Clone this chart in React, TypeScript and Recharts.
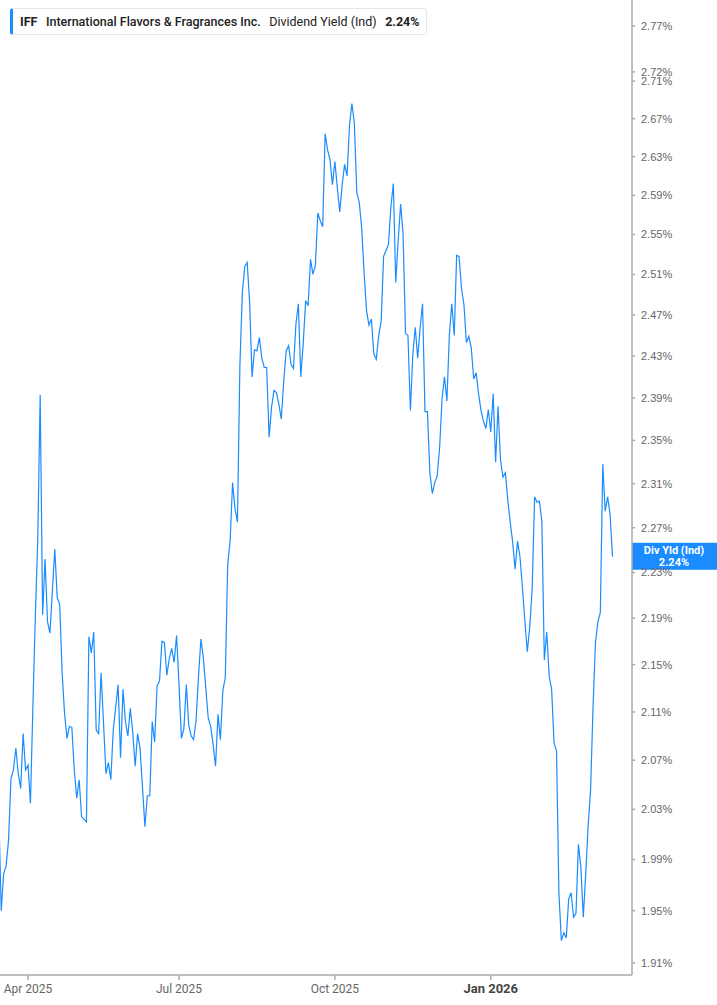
import { LineChart, Line, XAxis, YAxis, ReferenceLine } from 'recharts'

// trading-day index 0 = 17 Mar 2025
const tickDays = [11, 73, 137, 201]
const tickLabels = ['Apr 2025', 'Jul 2025', 'Oct 2025', 'Jan 2026']

const yieldTicks = [
  1.91, 1.95, 1.99, 2.03, 2.07, 2.11, 2.15, 2.19, 2.23, 2.27, 2.31, 2.35,
  2.39, 2.43, 2.47, 2.51, 2.55, 2.59, 2.63, 2.67, 2.71, 2.72, 2.77,
]

// dividend yield (%), each run starts at the given trading day
const marchStart = -1
const march2025 = [
  2.029, 1.95, 1.979, 1.985, 2.005, 2.055, 2.062, 2.08, 2.059, 2.047, 2.092,
  2.062, 2.066, 2.035, 2.114, 2.191, 2.259, 2.393, 2.193, 2.242, 2.187, 2.177,
]
const aprilStart = 22
const april2025 = [2.251, 2.208, 2.202, 2.143, 2.109, 2.088, 2.098, 2.097, 2.062, 2.039, 2.054, 2.024]
const mayStart = 35
const may2025 = [2.02, 2.174, 2.16, 2.178, 2.095, 2.092, 2.143, 2.101, 2.059, 2.068, 2.054, 2.095]
const summerStart = 48
const summer2025 = [
  2.133, 2.072, 2.129, 2.102, 2.09, 2.113, 2.093, 2.065, 2.092, 2.08, 2.048,
  2.016, 2.041, 2.041, 2.102, 2.085, 2.132, 2.136, 2.17, 2.169, 2.141, 2.155,
  2.164, 2.152, 2.175, 2.133, 2.088, 2.096, 2.133, 2.099, 2.09, 2.087, 2.103,
  2.14, 2.172, 2.156, 2.13, 2.105, 2.098, 2.083, 2.065, 2.108, 2.087, 2.128,
  2.139,
]
const autumnStart = 93
const autumn2025 = [
  2.237, 2.259, 2.311, 2.287, 2.275, 2.421, 2.492, 2.518, 2.522, 2.482, 2.41,
  2.436, 2.435, 2.448, 2.428, 2.419, 2.419, 2.353, 2.381, 2.397, 2.395, 2.384,
  2.37, 2.406, 2.435, 2.44, 2.422, 2.418, 2.461, 2.481, 2.41, 2.442, 2.484,
  2.479, 2.525, 2.51, 2.519, 2.572, 2.564, 2.558, 2.654, 2.637, 2.627, 2.601,
  2.625, 2.598, 2.573, 2.601, 2.622, 2.61, 2.663, 2.686, 2.665, 2.593, 2.583,
  2.557, 2.512, 2.474, 2.46, 2.466, 2.432, 2.427, 2.45, 2.464, 2.528, 2.534,
  2.54, 2.578,
]
const winterStart = 161
const winter2026 = [
  2.602, 2.502, 2.544, 2.581, 2.551, 2.452, 2.45, 2.378, 2.431, 2.458, 2.428,
  2.457, 2.481, 2.377, 2.377, 2.32, 2.301, 2.311, 2.317, 2.343, 2.389, 2.41,
  2.387, 2.45, 2.481, 2.45, 2.529, 2.528, 2.496, 2.48, 2.443, 2.449, 2.438,
  2.408, 2.414, 2.394, 2.378, 2.368, 2.361, 2.379, 2.358, 2.394, 2.33, 2.382,
  2.332, 2.316, 2.32, 2.295, 2.275, 2.257, 2.233, 2.258, 2.244, 2.217, 2.188,
  2.161, 2.182, 2.215, 2.298, 2.293, 2.294, 2.275, 2.154, 2.178, 2.14, 2.129,
  2.084, 2.078, 1.963, 1.927, 1.933, 1.929, 1.959, 1.964, 1.945, 1.948, 2.002,
  1.984, 1.945, 1.979, 2.017, 2.046, 2.114, 2.169, 2.187, 2.195, 2.328, 2.285,
  2.298, 2.282, 2.244,
]

const runs: [number, number[]][] = [
  [marchStart, march2025],
  [aprilStart, april2025],
  [mayStart, may2025],
  [summerStart, summer2025],
  [autumnStart, autumn2025],
  [winterStart, winter2026],
]
const data = runs.flatMap(([start, vals]) => vals.map((v, k) => ({ day: start + k, value: v })))
const lastValue = winter2026[winter2026.length - 1]

const BLUE = '#1a8cff'

function DateTick({ x, y, payload }: any) {
  const label = tickLabels[tickDays.indexOf(payload.value)]
  const isYear = label.startsWith('Jan')
  return (
    <text
      x={x}
      y={y + 11}
      textAnchor="middle"
      fontSize={isYear ? 13 : 12}
      fontWeight={isYear ? 700 : 400}
      fill={isYear ? '#444' : '#666'}
      fontFamily="Roboto, sans-serif"
    >
      {label}
    </text>
  )
}

function LastBadge({ viewBox }: any) {
  const left = viewBox.x + viewBox.width
  const y = viewBox.y
  return (
    <g>
      <rect x={left} y={y - 14} width={85} height={27} fill={BLUE} />
      <text x={left + 42} y={y - 3} textAnchor="middle" fill="#fff" fontSize={11} fontWeight={700} fontFamily="Roboto, sans-serif">
        Div Yld (Ind)
      </text>
      <text x={left + 42} y={y + 9} textAnchor="middle" fill="#fff" fontSize={11} fontWeight={700} fontFamily="Roboto, sans-serif">
        {lastValue.toFixed(2)}%
      </text>
    </g>
  )
}

export default function App() {
  return (
    <div style={{ position: 'absolute', left: 0, top: 0, width: 717, height: 1005, background: '#fff' }}>
      <LineChart width={717} height={1005} data={data} margin={{ top: 0, right: 0, bottom: 0, left: 0 }}>
        <XAxis
          dataKey="day"
          type="number"
          domain={[-0.5, 259]}
          allowDataOverflow
          ticks={tickDays}
          height={30}
          stroke="#aaa"
          strokeWidth={1.5}
          tickSize={5}
          tick={<DateTick />}
        />
        <YAxis
          orientation="right"
          width={85}
          scale="log"
          domain={[1.9009, 2.7987]}
          allowDataOverflow
          ticks={yieldTicks}
          interval={0}
          stroke="#aaa"
          strokeWidth={1.5}
          tickSize={3}
          tickMargin={6}
          tick={{ fontSize: 11, fill: '#666', fontFamily: 'Liberation Sans, Arial, sans-serif' }}
          tickFormatter={(v: number) => v.toFixed(2) + '%'}
        />
        <Line
          type="linear"
          dataKey="value"
          stroke={BLUE}
          strokeWidth={1.2}
          dot={false}
          isAnimationActive={false}
        />
        <ReferenceLine y={lastValue} stroke="none" label={<LastBadge />} />
      </LineChart>
      <div
        style={{
          position: 'absolute',
          left: 10,
          top: 8,
          height: 25,
          display: 'flex',
          alignItems: 'center',
          gap: 8.5,
          padding: '0 6px 0 7px',
          border: '1px solid #e6e6e6',
          borderLeft: `3px solid ${BLUE}`,
          borderRadius: 3,
          background: '#fff',
          fontFamily: 'Roboto, sans-serif',
          fontSize: 12.5,
          color: '#222',
          whiteSpace: 'nowrap',
        }}
      >
        <span style={{ fontWeight: 700 }}>IFF</span>
        <span style={{ fontWeight: 500 }}>International Flavors &amp; Fragrances Inc.</span>
        <span style={{ fontWeight: 400 }}>Dividend Yield (Ind)</span>
        <span style={{ fontWeight: 700 }}>{lastValue.toFixed(2)}%</span>
      </div>
    </div>
  )
}
